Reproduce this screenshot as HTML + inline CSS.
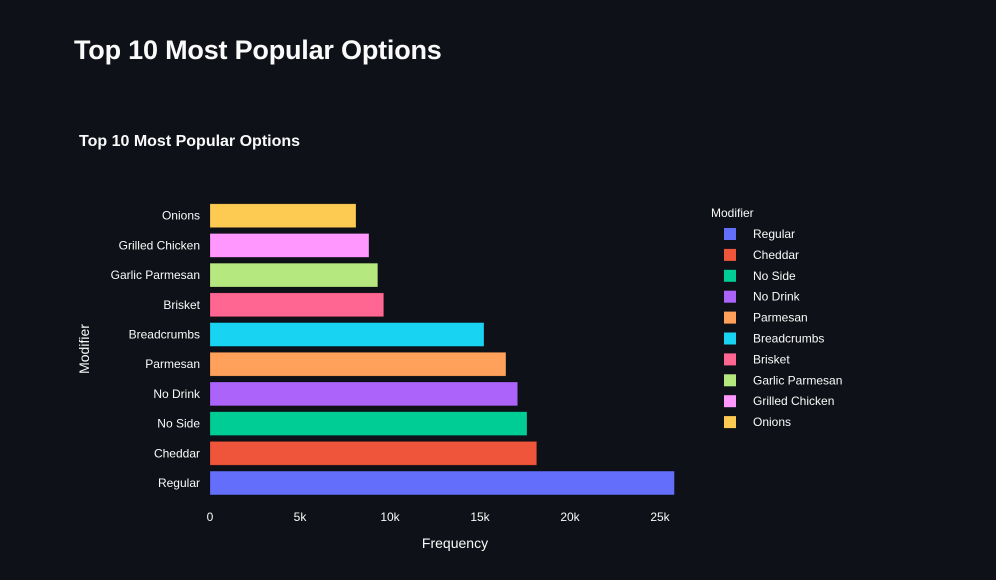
<!DOCTYPE html>
<html><head><meta charset="utf-8"><style>
body{margin:0;background:#0e1117;width:996px;height:580px;overflow:hidden;font-family:"Liberation Sans",sans-serif;color:#fafafa}
h1{position:absolute;left:74px;top:35px;margin:0;font-size:27px;font-weight:bold;letter-spacing:-0.2px}
</style></head><body>
<h1>Top 10 Most Popular Options</h1>
<svg id="c" width="996" height="580" style="position:absolute;left:0;top:0"></svg>
<script>
const categories=["Regular","Cheddar","No Side","No Drink","Parmesan","Breadcrumbs","Brisket","Garlic Parmesan","Grilled Chicken","Onions"];
const values=[25800,18150,17610,17090,16440,15220,9650,9320,8830,8110];
const colors=["#636efa","#ef553b","#00cc96","#ab63fa","#ffa15a","#19d3f3","#ff6692","#b6e880","#ff97ff","#fecb52"];
const tickValues=[0,5000,10000,15000,20000,25000];
const tickLabels=["0","5k","10k","15k","20k","25k"];
const svg=document.getElementById('c');const NS="http://www.w3.org/2000/svg";
function mk(t,a,txt){const e=document.createElementNS(NS,t);for(const k in a)e.setAttribute(k,a[k]);if(txt!=null)e.textContent=txt;svg.appendChild(e);return e;}
const x=v=>210+v*0.018;
const band=29.7;const y=i=>483-i*band;
let t=mk('text',{x:79,y:146,fill:'#fafafa','font-size':16,'font-weight':'bold'},'Top 10 Most Popular Options');


tickValues.forEach((v,i)=>{const e=mk('text',{x:x(v),y:521,fill:'#fafafa','font-size':12,'text-anchor':'middle'},tickLabels[i]);

});
categories.forEach((c,i)=>{
const r=mk('rect',{x:x(0),y:y(i)-band*0.4,width:x(values[i])-x(0),height:band*0.8,fill:colors[i],stroke:'rgba(0,0,0,0.3)','stroke-width':0.6});


const l=mk('text',{x:200,y:y(i)+4,fill:'#fafafa','font-size':12,'text-anchor':'end'},c);


const ly=234+i*20.9;
const s=mk('rect',{x:724,y:ly-6,width:12,height:12,fill:colors[i]});


const lt=mk('text',{x:753,y:ly+4,fill:'#fafafa','font-size':12},c);


});
const xt=mk('text',{x:455,y:548,fill:'#fafafa','font-size':14,'text-anchor':'middle'},'Frequency');


const yt=mk('text',{x:89,y:349,fill:'#fafafa','font-size':14,'text-anchor':'middle',transform:'rotate(-90 89 349)'},'Modifier');


const lg=mk('text',{x:711,y:217,fill:'#fafafa','font-size':12},'Modifier');


</script>
</body></html>
